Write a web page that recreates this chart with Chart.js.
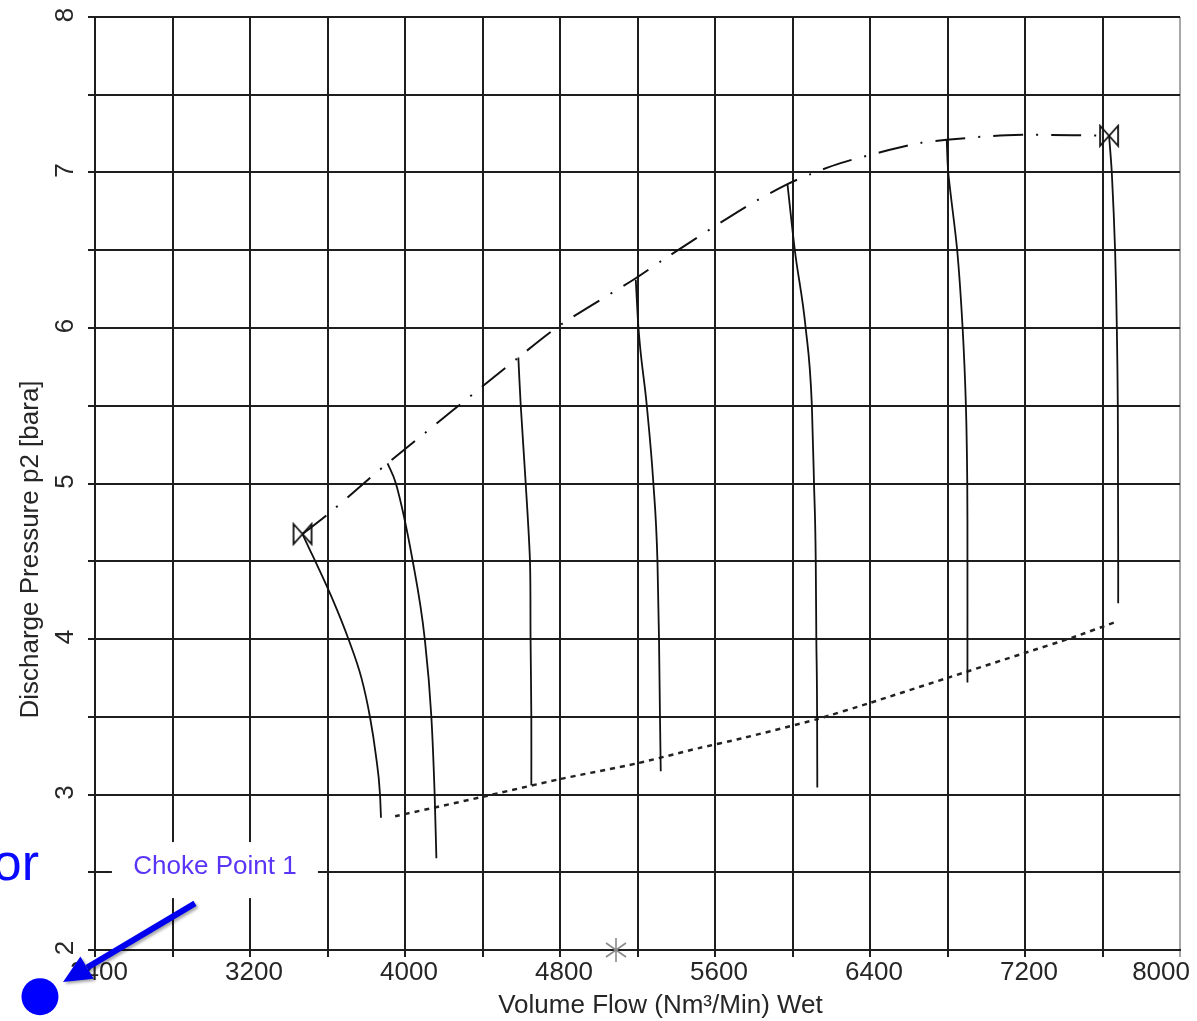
<!DOCTYPE html>
<html>
<head>
<meta charset="utf-8">
<script src="https://cdn.jsdelivr.net/npm/chart.js@4.4.1/dist/chart.umd.min.js"></script>
<style>
  html, body { margin: 0; padding: 0; background: #fff; }
  #chart { display: block; }
</style>
</head>
<body>
<canvas id="chart" width="1197" height="1021"></canvas>
<script>
// tick labels
var xTickLabels = ['2400', '3200', '4000', '4800', '5600', '6400', '7200', '8000'];
var yTickLabels = ['2', '3', '4', '5', '6', '7', '8'];

// surge line (dash-dot)
var surgeFlow     = [3471, 3600, 3824, 3910, 4585, 4803, 5191, 5334, 5760, 5974, 6094, 6248, 6453, 6659, 6796, 7104, 7446, 7634];
var surgePressure = [4.675, 4.80, 5.04, 5.13, 5.81, 6.02, 6.32, 6.44, 6.78, 6.925, 6.99, 7.06, 7.13, 7.19, 7.21, 7.24, 7.24, 7.236];

// choke line (dotted)
var chokeFlow     = [3949, 4383, 4803, 5197, 5522, 5735, 6128, 6402, 6800, 7198, 7446, 7660];
var chokePressure = [2.86, 2.98, 3.10, 3.20, 3.30, 3.36, 3.485, 3.59, 3.75, 3.91, 4.01, 4.106];

// speed lines (solid)
var speed1Flow = [3471, 3628, 3708, 3775, 3819, 3850, 3871, 3876];
var speed1P    = [4.675, 4.25, 4.00, 3.75, 3.50, 3.25, 3.00, 2.85];
var speed2Flow = [3910, 3953, 4040, 4102, 4136, 4153, 4162];
var speed2P    = [5.13, 5.00, 4.50, 4.00, 3.50, 3.00, 2.59];
var speed3Flow = [4585, 4597, 4623, 4645, 4648, 4652, 4652];
var speed3P    = [5.81, 5.51, 5.00, 4.50, 4.01, 3.50, 3.06];
var speed4Flow = [5191, 5205, 5248, 5282, 5303, 5311, 5316, 5320];
var speed4P    = [6.31, 6.00, 5.50, 5.00, 4.50, 4.00, 3.50, 3.15];
var speed5Flow = [5974, 6012, 6068, 6100, 6111, 6120, 6123, 6127, 6128];
var speed5P    = [6.925, 6.50, 6.00, 5.50, 5.00, 4.50, 4.00, 3.50, 3.045];
var speed6Flow = [6796, 6804, 6850, 6878, 6895, 6902, 6903, 6903, 6903];
var speed6P    = [7.21, 7.00, 6.50, 6.00, 5.50, 5.00, 4.50, 4.00, 3.72];
var speed7Flow = [7634, 7648, 7665, 7674, 7679, 7680, 7681, 7681];
var speed7P    = [7.236, 7.00, 6.50, 6.00, 5.50, 5.00, 4.50, 4.23];

// markers
var endFlow = [3471, 7634];
var endPressure = [4.675, 7.236];
var opFlow = [5089];
var opPressure = [2.0];

// annotation "Choke Point 1"
var chokeLabel = 'Choke Point 1';
var chokeLabelAt = [3019, 2.514];
var arrowFrom = [2916, 2.30];
var arrowTo = [2235, 1.794];
var dotAt = [2116, 1.70];
var sideText = 'or';
var sideTextAt = [2111, 2.45];

function pts(xs, ys) {
    var out = [];
    for (var i = 0; i < xs.length; i++) {
        out.push({x: xs[i], y: ys[i]});
    }
    return out;
}

function speedLine(xs, ys) {
    // monotone only works when flow keeps increasing
    var increasing = true;
    for (var i = 1; i < xs.length; i++) {
        if (xs[i] <= xs[i - 1]) increasing = false;
    }
    return {
        data: pts(xs, ys),
        showLine: true,
        borderColor: '#111',
        borderWidth: 1.8,
        pointRadius: 0,
        tension: 0.3,
        cubicInterpolationMode: increasing ? 'monotone' : 'default'
    };
}

// bowtie marker
var bowtie = document.createElement('canvas');
bowtie.width = 22; bowtie.height = 24;
(function () {
    var c = bowtie.getContext('2d');
    c.strokeStyle = '#111';
    c.lineWidth = 1.8;
    c.beginPath();
    c.moveTo(2, 2); c.lineTo(20, 22); c.lineTo(20, 2); c.lineTo(2, 22);
    c.closePath();
    c.stroke();
})();

// grey asterisk
var star = document.createElement('canvas');
star.width = 26; star.height = 26;
(function () {
    var c = star.getContext('2d');
    c.strokeStyle = '#8a8a8a';
    c.lineWidth = 1.6;
    c.beginPath();
    c.moveTo(13, 1); c.lineTo(13, 25);
    c.moveTo(3, 6); c.lineTo(23, 20);
    c.moveTo(23, 6); c.lineTo(3, 20);
    c.stroke();
})();

var FONT = '"Liberation Sans", Arial, sans-serif';

var overlay = {
    id: 'overlay',
    afterDraw: function (chart) {
        var ctx = chart.ctx;
        var xs = chart.scales.x, ys = chart.scales.y;
        var area = chart.chartArea;
        ctx.save();
        ctx.fillStyle = '#262626';
        ctx.font = '26px ' + FONT;

        // x tick labels
        ctx.textAlign = 'center';
        ctx.textBaseline = 'middle';
        xTickLabels.forEach(function (l) {
            var w = ctx.measureText(l).width;
            var px = xs.getPixelForValue(Number(l)) + 4;
            if (px + w / 2 > chart.width - 7) px = chart.width - 7 - w / 2;
            ctx.fillText(l, px, area.bottom + 23);
        });
        // x title
        ctx.fillText('Volume Flow (Nm³/Min) Wet', (area.left + area.right) / 2 + 23, area.bottom + 56);

        // y tick labels, rotated
        yTickLabels.forEach(function (l) {
            var py = ys.getPixelForValue(Number(l));
            ctx.save();
            ctx.translate(area.left - 29, py - 2);
            ctx.rotate(-Math.PI / 2);
            ctx.fillText(l, 0, 0);
            ctx.restore();
        });
        // y title
        ctx.save();
        ctx.translate(area.left - 64, (area.top + area.bottom) / 2 + 66);
        ctx.rotate(-Math.PI / 2);
        ctx.fillText('Discharge Pressure p2 [bara]', 0, 0);
        ctx.restore();

        // annotation box + text
        var lx = xs.getPixelForValue(chokeLabelAt[0]);
        var ly = ys.getPixelForValue(chokeLabelAt[1]);
        ctx.fillStyle = '#fff';
        ctx.fillRect(lx - 103, ly - 28, 206, 56);
        ctx.fillStyle = '#5b35f5';
        ctx.font = '26px ' + FONT;
        ctx.fillText(chokeLabel, lx, ly - 3);

        // side text
        ctx.fillStyle = '#0a0aff';
        ctx.font = '52px ' + FONT;
        ctx.textAlign = 'right';
        ctx.textBaseline = 'alphabetic';
        ctx.fillText(sideText, xs.getPixelForValue(sideTextAt[0]), ys.getPixelForValue(sideTextAt[1]));

        // blue choke point dot
        ctx.fillStyle = '#0000ff';
        ctx.beginPath();
        ctx.arc(xs.getPixelForValue(dotAt[0]), ys.getPixelForValue(dotAt[1]), 18.5, 0, Math.PI * 2);
        ctx.fill();

        // arrow
        var x0 = xs.getPixelForValue(arrowFrom[0]), y0 = ys.getPixelForValue(arrowFrom[1]);
        var x1 = xs.getPixelForValue(arrowTo[0]), y1 = ys.getPixelForValue(arrowTo[1]);
        var ang = Math.atan2(y1 - y0, x1 - x0);
        var hl = 28, hw = 13;
        var bx = x1 - hl * Math.cos(ang), by = y1 - hl * Math.sin(ang);
        ctx.shadowColor = 'rgba(0,0,0,0.35)';
        ctx.shadowOffsetX = 2;
        ctx.shadowOffsetY = 2;
        ctx.shadowBlur = 3;
        ctx.strokeStyle = '#0000ee';
        ctx.fillStyle = '#0000ee';
        ctx.lineWidth = 6;
        ctx.beginPath();
        ctx.moveTo(x0, y0);
        ctx.lineTo(bx, by);
        ctx.stroke();
        ctx.beginPath();
        ctx.moveTo(x1, y1);
        ctx.lineTo(bx + hw * Math.sin(ang), by - hw * Math.cos(ang));
        ctx.lineTo(bx - hw * Math.sin(ang), by + hw * Math.cos(ang));
        ctx.closePath();
        ctx.fill();
        ctx.restore();
    }
};

var gridColor = '#1e1e1e';

new Chart(document.getElementById('chart'), {
    type: 'scatter',
    data: {
        datasets: [
            speedLine(speed1Flow, speed1P),
            speedLine(speed2Flow, speed2P),
            speedLine(speed3Flow, speed3P),
            speedLine(speed4Flow, speed4P),
            speedLine(speed5Flow, speed5P),
            speedLine(speed6Flow, speed6P),
            speedLine(speed7Flow, speed7P),
            {
                data: pts(surgeFlow, surgePressure),
                showLine: true,
                borderColor: '#111',
                borderWidth: 2,
                borderDash: [30, 13, 2, 13],
                pointRadius: 0,
                tension: 0.3
            },
            {
                data: pts(chokeFlow, chokePressure),
                showLine: true,
                borderColor: '#222',
                borderWidth: 2.5,
                borderDash: [5, 5],
                pointRadius: 0,
                tension: 0.2
            },
            {
                data: pts(endFlow, endPressure),
                pointStyle: bowtie,
                pointRadius: 11,
                clip: false
            },
            {
                data: pts(opFlow, opPressure),
                pointStyle: star,
                pointRadius: 13,
                clip: false
            }
        ]
    },
    options: {
        responsive: false,
        animation: false,
        devicePixelRatio: 1,
        layout: { padding: { top: 17, right: 17, left: 0, bottom: 0 } },
        plugins: { legend: { display: false }, tooltip: { enabled: false } },
        scales: {
            x: {
                type: 'linear',
                min: 2400,
                max: 8000,
                ticks: { stepSize: 400, display: false },
                grid: {
                    color: function (c) { return c.tick && c.tick.value === 8000 ? '#a8a8a8' : gridColor; },
                    lineWidth: 2,
                    tickLength: 7
                },
                border: { display: true, color: gridColor, width: 2 },
                afterFit: function (s) { s.height = 71; s.paddingLeft = 0; s.paddingRight = 0; }
            },
            y: {
                type: 'linear',
                min: 2,
                max: 8,
                ticks: { stepSize: 0.5, display: false },
                grid: { color: gridColor, lineWidth: 2, tickLength: 7 },
                border: { display: true, color: gridColor, width: 2 },
                afterFit: function (s) { s.width = 95; s.paddingTop = 0; s.paddingBottom = 0; }
            }
        }
    },
    plugins: [overlay]
});
</script>
</body>
</html>
